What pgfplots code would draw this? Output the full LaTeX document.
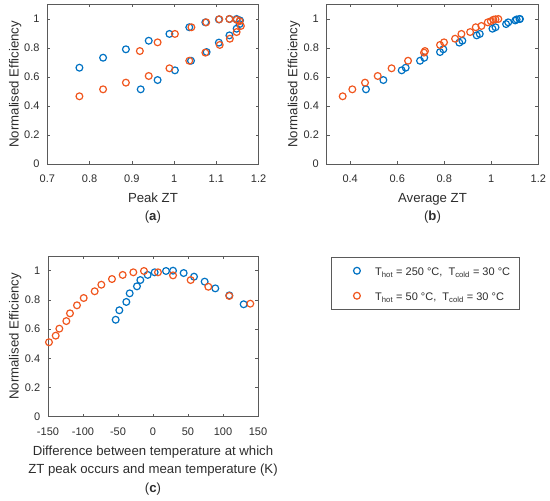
\documentclass[border=0pt]{standalone}
\usepackage{fontspec}
\setmainfont{Liberation Sans}
\usepackage{pgfplots}
\pgfplotsset{compat=1.18}
\definecolor{mblue}{RGB}{0,114,195}
\definecolor{morange}{RGB}{240,86,30}
\definecolor{axgray}{RGB}{90,90,90}
\definecolor{txt}{RGB}{45,45,45}
\newcommand{\lblfont}{\fontsize{13.2}{15}\selectfont}
\pgfplotsset{
  mstyle/.style={
    scale only axis, clip=false,
    axis line style={axgray, line width=0.5pt},
    every tick/.style={axgray, line width=0.5pt},
    tick align=inside, major tick length=3pt,
    xtick pos=both, ytick pos=both,
    ymin=0, ymax=1.1, ytick={0,0.2,0.4,0.6,0.8,1},
    /pgf/number format/assume math mode=true,
    tick label style={font=\fontsize{11}{13}\selectfont, text=txt},
    xticklabel style={yshift=-7.3pt},
    yticklabel style={xshift=-4.3pt},
    every axis y label/.style={at={(axis description cs:-0.152,0.5)}, rotate=90, anchor=center, font=\lblfont, text=txt},
    every axis x label/.style={at={(axis description cs:0.5,-0.2445)}, anchor=base, font=\lblfont, text=txt},
  },
  sblue/.style={only marks, mark=o, mark size=3.4pt, line width=1.2pt, mblue},
  sorange/.style={only marks, mark=o, mark size=3.4pt, line width=1.2pt, morange},
}
\begin{document}
\begin{tikzpicture}
\path[use as bounding box] (0,0) rectangle (550pt,501pt);
% (a)
\begin{axis}[mstyle, at={(47.3pt,337pt)}, anchor=south west, width=211.3pt, height=159.5pt,
  xmin=0.7, xmax=1.2, xtick={0.7,0.8,0.9,1,1.1,1.2},
  xlabel={Peak ZT}, ylabel={Normalised Efficiency}]
\addplot[sblue] coordinates {
(0.776,0.664)(0.832,0.733)(0.886,0.791)(0.940,0.850)(0.989,0.897)(1.036,0.943)(1.074,0.977)(1.106,0.997)(1.131,1.000)(1.148,1.000)(1.156,0.990)
(0.921,0.515)(0.961,0.579)(1.002,0.646)(1.040,0.712)(1.077,0.772)(1.106,0.837)(1.131,0.887)(1.148,0.933)(1.155,0.965)};
\addplot[sorange] coordinates {
(0.919,0.779)(0.961,0.839)(1.002,0.897)(1.041,0.943)(1.076,0.977)(1.107,0.998)(1.131,1.000)(1.148,0.995)(1.155,0.985)
(0.776,0.467)(0.832,0.515)(0.886,0.561)(0.940,0.607)(0.989,0.660)(1.036,0.712)(1.074,0.768)(1.108,0.821)(1.132,0.864)(1.148,0.910)(1.158,0.952)};
\node[anchor=base, font=\lblfont, text=txt] at (axis description cs:0.5,-0.357) {(\textbf{a})};
\end{axis}
% (b)
\begin{axis}[mstyle, at={(326.7pt,337pt)}, anchor=south west, width=211.6pt, height=159.5pt,
  xmin=0.3, xmax=1.2, xtick={0.4,0.6,0.8,1,1.2},
  xlabel={Average ZT}, ylabel={Normalised Efficiency},
  every axis y label/.style={at={(axis description cs:-0.1545,0.5)}, rotate=90, anchor=center, font=\lblfont, text=txt}]
\addplot[sblue] coordinates {
(0.467,0.515)(0.541,0.579)(0.619,0.646)(0.636,0.664)(0.697,0.712)(0.715,0.733)(0.782,0.772)(0.796,0.791)(0.864,0.837)(0.877,0.850)
(0.938,0.887)(0.951,0.897)(1.005,0.933)(1.018,0.943)(1.063,0.965)(1.072,0.977)(1.102,0.990)(1.108,0.997)(1.120,1.000)(1.122,1.000)};
\addplot[sorange] coordinates {
(0.368,0.467)(0.409,0.515)(0.463,0.561)(0.517,0.607)(0.576,0.660)(0.646,0.712)(0.714,0.768)(0.718,0.779)(0.782,0.821)(0.799,0.839)
(0.846,0.864)(0.873,0.897)(0.910,0.910)(0.934,0.943)(0.958,0.952)(0.985,0.977)(0.998,0.985)(1.009,0.995)(1.018,0.998)(1.030,1.000)};
\node[anchor=base, font=\lblfont, text=txt] at (axis description cs:0.5,-0.357) {(\textbf{b})};
\end{axis}
% (c)
\begin{axis}[mstyle, at={(48pt,84.3pt)}, anchor=south west, width=210pt, height=160.6pt,
  xmin=-150, xmax=150, xtick={-150,-100,-50,0,50,100,150},
  ylabel={Normalised Efficiency},
  every axis y label/.style={at={(axis description cs:-0.156,0.5)}, rotate=90, anchor=center, font=\lblfont, text=txt},
  legend style={at={(1.3476,0.9944)}, anchor=north west, draw=axgray, line width=0.5pt,
    inner xsep=0pt, inner ysep=1pt, row sep=0pt, column sep=14.7pt,
    font=\fontsize{11}{13}\selectfont, text=txt,
    cells={anchor=west},
    nodes={inner sep=0pt, text height=17pt, text depth=8pt}},
  legend image code/.code={\path[draw=none, fill=none] (0pt,-4pt) rectangle (29.3pt,4pt); \draw[#1] plot coordinates {(25.7pt,0pt)};}]
\addplot[sblue] coordinates {
(-53.3,0.664)(-48.1,0.729)(-38.1,0.786)(-33.3,0.845)(-22.9,0.893)(-18.1,0.936)(-7.6,0.971)(2.4,0.989)(18.6,0.998)(28.6,1.000)
(43.8,0.984)(58.6,0.959)(73.8,0.925)(89.0,0.879)(109.0,0.831)(129.5,0.770)};
\addlegendentry{\makebox[144pt][l]{T\textsubscript{hot} = 250 °C,\ \ T\textsubscript{cold} = 30 °C}}
\addplot[sorange] coordinates {
(-148.6,0.510)(-139.0,0.555)(-133.8,0.603)(-123.8,0.655)(-118.6,0.708)(-108.6,0.763)(-99.0,0.813)(-83.3,0.859)(-73.8,0.904)(-58.6,0.943)
(-43.3,0.971)(-28.1,0.989)(-12.9,0.998)(7.1,0.989)(28.6,0.968)(53.8,0.936)(79.0,0.890)(109.0,0.827)(139.0,0.774)};
\addlegendentry{\makebox[144pt][l]{T\textsubscript{hot} = 50 °C,\ \ T\textsubscript{cold} = 30 °C}}
\node[anchor=base, font=\lblfont, text=txt] at (axis description cs:0.5,-0.2385) {Difference between temperature at which};
\node[anchor=base, font=\lblfont, text=txt] at (axis description cs:0.5,-0.3537) {ZT peak occurs and mean temperature (K)};
\node[anchor=base, font=\lblfont, text=txt] at (axis description cs:0.5,-0.475) {(\textbf{c})};
\end{axis}
\end{tikzpicture}
\end{document}
